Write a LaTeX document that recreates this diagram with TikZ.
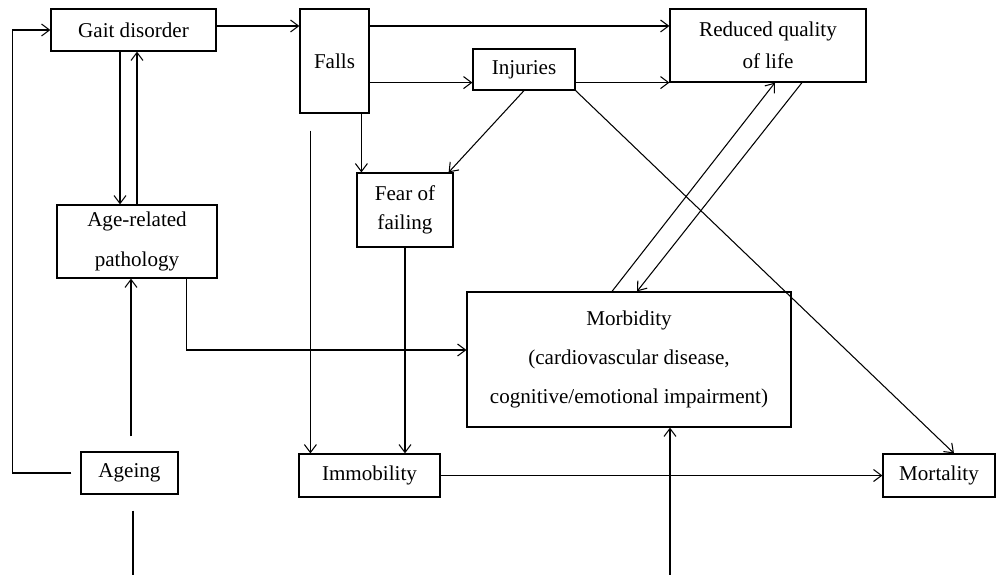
\documentclass[tikz,border=0pt]{standalone}
\usepackage{fontspec}
\setmainfont{Liberation Serif}
\usetikzlibrary{arrows.meta, calc}

\begin{document}
\begin{tikzpicture}[
      x=0.02cm, y=-0.02cm,
      bloque/.style={draw, line width=0.7pt, inner sep=0pt, align=center,
                     font=\fontsize{12}{14.5}\selectfont},
      flecha/.style={-{Straight Barb[length=0.16cm, width=0.24cm]}, line width=0.6pt},
      linea/.style={line width=0.6pt}]
    \useasboundingbox (0,0) rectangle (996,574);
    \node[bloque, minimum width=3.30cm, minimum height=0.84cm] (marcha) at (133.5,30) {Gait disorder};
    \node[bloque, minimum width=1.38cm, minimum height=2.08cm] (caidas) at (334.5,61) {Falls};
    \node[bloque, minimum width=2.04cm, minimum height=0.82cm] (lesiones) at (524,69.5) {Injuries};
    \node[bloque, minimum width=3.92cm, minimum height=1.46cm] (calidad) at (768,45.5) {Reduced quality\\[3.6pt]of life};
    \node[bloque, minimum width=1.92cm, minimum height=1.48cm] (miedo) at (405,210) {Fear of\\[2pt]failing};
    \node[bloque, minimum width=3.20cm, minimum height=1.46cm] (patologia) at (137,241.5) {Age-related\\[8pt]pathology};
    \node[bloque, minimum width=6.48cm, minimum height=2.70cm] (morbilidad) at (629,359.5)
      {Morbidity\\[7.5pt](cardiovascular disease,\\[7.5pt]cognitive/emotional impairment)};
    \node[bloque, minimum width=1.94cm, minimum height=0.84cm] (envejec) at (129.5,473) {Ageing};
    \node[bloque, minimum width=2.82cm, minimum height=0.86cm] (inmovil) at (369.5,475.5) {Immobility};
    \node[bloque, minimum width=2.24cm, minimum height=0.86cm] (mortalidad) at (939,475.5) {Mortality};

    \coordinate (arriba) at ($(marcha.east)+(0,-4)$);
    \coordinate (c1) at ($(miedo.north west)+(5,0)$);
    \coordinate (c2) at ($(inmovil.north west)+(12,0)$);
    \coordinate (c3) at ($(marcha.south)+(-13.5,0)$);
    \coordinate (c4) at ($(envejec.north)+(1.5,-15)$);

    \draw[flecha] (arriba) -- (arriba -| caidas.west);
    \draw[flecha] (arriba -| caidas.east) -- (arriba -| calidad.west);
    \draw[flecha] (calidad.south west -| caidas.east) -- (calidad.south west -| lesiones.west);
    \draw[flecha] (calidad.south west -| lesiones.east) -- (calidad.south west);
    \draw[flecha] (c1 |- caidas.south) -- (c1);
    \draw[flecha] ($(c2 |- caidas.south)+(0,17)$) -- (c2);
    \draw[flecha] (lesiones.south) -- ($(miedo.north east)+(-5,0)$);
    \draw[flecha] (lesiones.south east) -- ($(mortalidad.north)+(15,0)$);
    \draw[flecha] (miedo.south) -- (miedo.south |- inmovil.north);
    \draw[flecha] (c3) -- (c3 |- patologia.north);
    \draw[flecha] (patologia.north) -- (patologia.north |- marcha.south);
    \draw[flecha] (c4) -- (c4 |- patologia.south);
    \draw[flecha] ($(envejec.west)+(-9,0)$) -- ++(-59,0) |- (marcha.west);
    \draw[linea] ($(envejec.south)+(3.5,16)$) -- ++(0,70);
    \draw[flecha] ($(patologia.south east)+(-31,0)$) |- ($(morbilidad.west)+(0,-9.5)$);
    \draw[flecha] ($(morbilidad.north)+(-17,0)$) -- ($(calidad.south)+(7,0)$);
    \draw[flecha] ($(calidad.south)+(34,0)$) -- ($(morbilidad.north)+(8,0)$);
    \draw[flecha] (inmovil) -- (mortalidad);
    \draw[flecha] ($(morbilidad.south)+(41,160)$) -- ($(morbilidad.south)+(41,0)$);
  \end{tikzpicture}
\end{document}
